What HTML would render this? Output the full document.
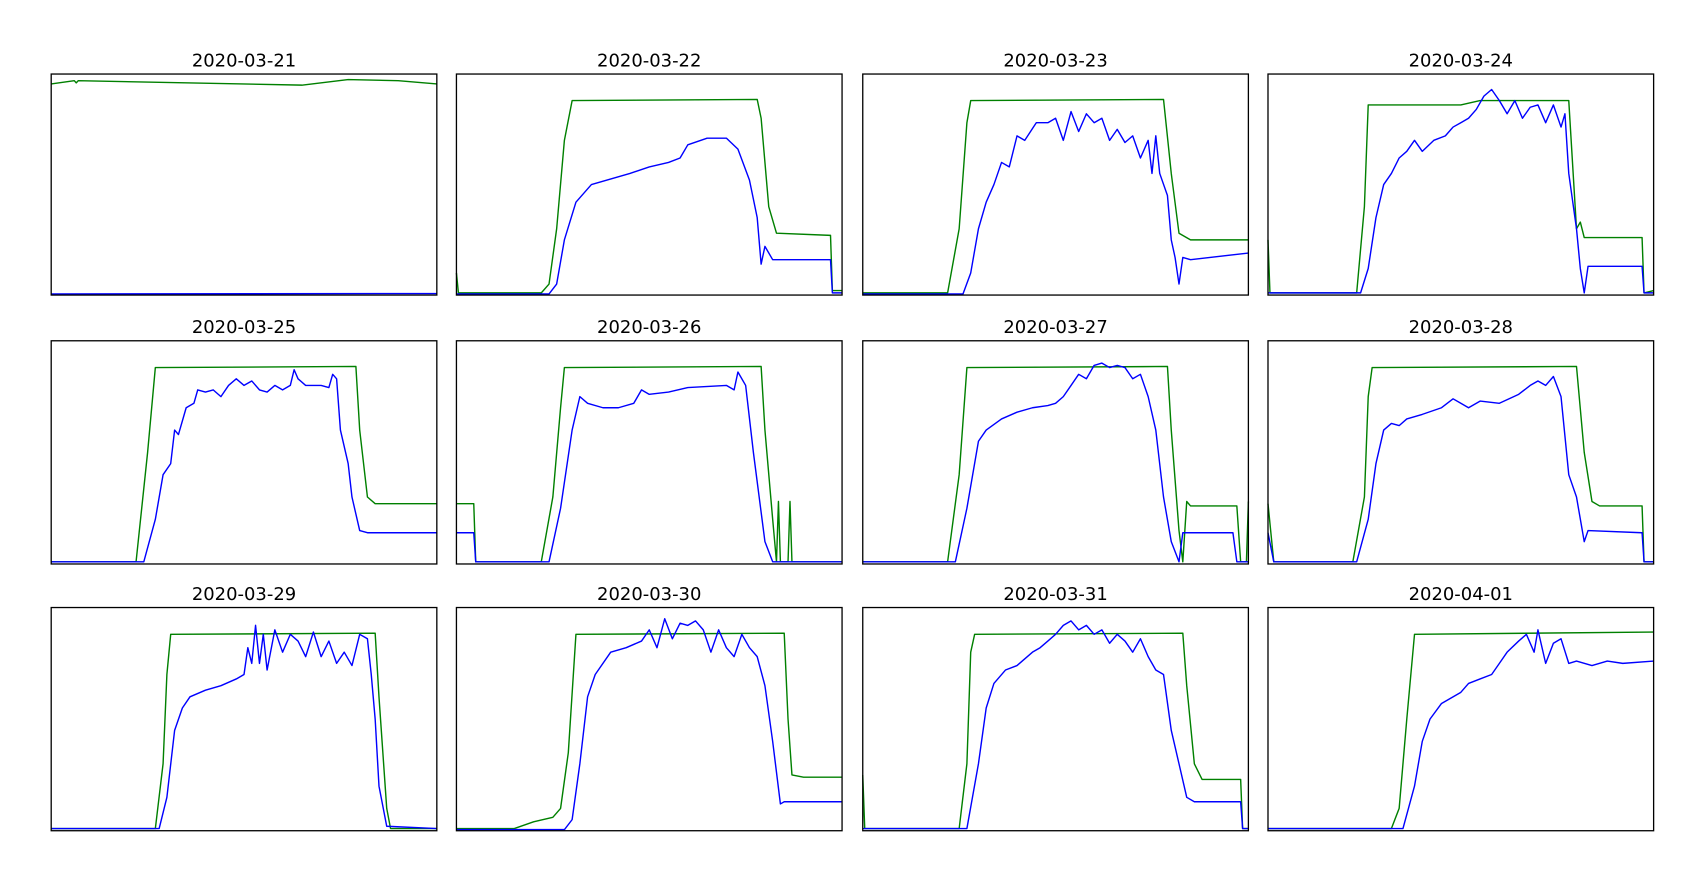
<!DOCTYPE html>
<html><head><meta charset="utf-8"><style>
html,body{margin:0;padding:0;background:#fff;}
svg{display:block;}
text{font-family:"DejaVu Sans","Liberation Sans",sans-serif;}
</style></head><body>
<svg id="fig" width="1707" height="877" viewBox="0 0 1567 805.5" preserveAspectRatio="none" xmlns="http://www.w3.org/2000/svg"></svg>
<script>
const dates=["2020-03-21","2020-03-22","2020-03-23","2020-03-24","2020-03-25","2020-03-26","2020-03-27","2020-03-28","2020-03-29","2020-03-30","2020-03-31","2020-04-01"];
const green0=[[0,0.955],[0.06,0.97],[0.065,0.96],[0.07,0.97],[0.65,0.95],[0.77,0.975],[0.9,0.97],[1,0.955]];
const blue0=[[0,0.005],[1,0.007]];
const green1=[[0,0.1],[0.005,0.01],[0.22,0.01],[0.24,0.05],[0.26,0.3],[0.28,0.7],[0.3,0.88],[0.78,0.885],[0.79,0.8],[0.81,0.4],[0.83,0.28],[0.97,0.27],[0.975,0.02],[1,0.02]];
const blue1=[[0,0.005],[0.24,0.005],[0.26,0.05],[0.28,0.25],[0.31,0.42],[0.35,0.5],[0.45,0.55],[0.5,0.58],[0.55,0.6],[0.58,0.62],[0.6,0.68],[0.65,0.71],[0.7,0.71],[0.73,0.66],[0.76,0.52],[0.78,0.35],[0.79,0.14],[0.8,0.22],[0.82,0.16],[0.97,0.16],[0.975,0.01],[1,0.01]];
const green2=[[0,0.01],[0.22,0.01],[0.25,0.3],[0.27,0.78],[0.28,0.88],[0.78,0.885],[0.8,0.55],[0.82,0.28],[0.85,0.25],[1,0.25]];
const blue2=[[0,0.005],[0.26,0.005],[0.28,0.1],[0.3,0.3],[0.32,0.42],[0.34,0.5],[0.36,0.6],[0.38,0.58],[0.4,0.72],[0.42,0.7],[0.45,0.78],[0.48,0.78],[0.5,0.8],[0.52,0.7],[0.54,0.83],[0.56,0.74],[0.58,0.82],[0.6,0.78],[0.62,0.8],[0.64,0.7],[0.66,0.75],[0.68,0.69],[0.7,0.72],[0.72,0.62],[0.74,0.7],[0.75,0.55],[0.76,0.72],[0.77,0.55],[0.79,0.45],[0.8,0.25],[0.81,0.17],[0.82,0.05],[0.83,0.17],[0.85,0.16],[1,0.19]];
const green3=[[0,0.25],[0.005,0.01],[0.23,0.01],[0.25,0.4],[0.26,0.86],[0.5,0.86],[0.55,0.88],[0.78,0.88],[0.8,0.3],[0.81,0.33],[0.82,0.26],[0.97,0.26],[0.975,0.01],[1,0.02]];
const blue3=[[0,0.01],[0.24,0.01],[0.26,0.12],[0.28,0.35],[0.3,0.5],[0.32,0.55],[0.34,0.62],[0.36,0.65],[0.38,0.7],[0.4,0.65],[0.43,0.7],[0.46,0.72],[0.48,0.76],[0.5,0.78],[0.52,0.8],[0.54,0.84],[0.56,0.9],[0.58,0.93],[0.6,0.88],[0.62,0.82],[0.64,0.88],[0.66,0.8],[0.68,0.85],[0.7,0.86],[0.72,0.78],[0.74,0.86],[0.76,0.76],[0.77,0.82],[0.78,0.55],[0.8,0.3],[0.81,0.12],[0.82,0.01],[0.83,0.13],[0.97,0.13],[0.975,0.01],[1,0.01]];
const green4=[[0,0.01],[0.22,0.01],[0.25,0.5],[0.27,0.88],[0.79,0.885],[0.8,0.6],[0.82,0.3],[0.84,0.27],[1,0.27]];
const blue4=[[0,0.01],[0.24,0.01],[0.27,0.2],[0.29,0.4],[0.31,0.45],[0.32,0.6],[0.33,0.58],[0.35,0.7],[0.37,0.72],[0.38,0.78],[0.4,0.77],[0.42,0.78],[0.44,0.75],[0.46,0.8],[0.48,0.83],[0.5,0.8],[0.52,0.82],[0.54,0.78],[0.56,0.77],[0.58,0.8],[0.6,0.78],[0.62,0.8],[0.63,0.87],[0.64,0.83],[0.66,0.8],[0.7,0.8],[0.72,0.79],[0.73,0.85],[0.74,0.83],[0.75,0.6],[0.77,0.45],[0.78,0.3],[0.8,0.15],[0.82,0.14],[1,0.14]];
const green5=[[0,0.27],[0.045,0.27],[0.05,0.01],[0.22,0.01],[0.25,0.3],[0.27,0.7],[0.28,0.88],[0.79,0.885],[0.8,0.6],[0.82,0.2],[0.83,0.01],[0.835,0.28],[0.84,0.01],[0.86,0.01],[0.865,0.28],[0.87,0.01],[1,0.01]];
const blue5=[[0,0.14],[0.045,0.14],[0.05,0.01],[0.24,0.01],[0.27,0.25],[0.3,0.6],[0.32,0.75],[0.34,0.72],[0.38,0.7],[0.42,0.7],[0.46,0.72],[0.48,0.78],[0.5,0.76],[0.55,0.77],[0.6,0.79],[0.7,0.8],[0.72,0.78],[0.73,0.86],[0.75,0.8],[0.77,0.5],[0.8,0.1],[0.82,0.01],[1,0.01]];
const green6=[[0,0.01],[0.22,0.01],[0.25,0.4],[0.27,0.88],[0.79,0.885],[0.8,0.6],[0.82,0.15],[0.83,0.01],[0.84,0.28],[0.85,0.26],[0.97,0.26],[0.98,0.01],[0.995,0.01],[1,0.28]];
const blue6=[[0,0.01],[0.24,0.01],[0.27,0.25],[0.3,0.55],[0.32,0.6],[0.36,0.65],[0.4,0.68],[0.44,0.7],[0.48,0.71],[0.5,0.72],[0.52,0.75],[0.54,0.8],[0.56,0.85],[0.58,0.83],[0.6,0.89],[0.62,0.9],[0.64,0.88],[0.66,0.89],[0.68,0.88],[0.7,0.83],[0.72,0.85],[0.74,0.75],[0.76,0.6],[0.78,0.3],[0.8,0.1],[0.82,0.01],[0.83,0.14],[0.96,0.14],[0.97,0.01],[1,0.01]];
const green7=[[0,0.27],[0.015,0.01],[0.22,0.01],[0.25,0.3],[0.26,0.75],[0.27,0.88],[0.8,0.885],[0.82,0.5],[0.84,0.28],[0.86,0.26],[0.97,0.26],[0.975,0.01],[1,0.01]];
const blue7=[[0,0.14],[0.015,0.01],[0.23,0.01],[0.26,0.2],[0.28,0.45],[0.3,0.6],[0.32,0.63],[0.34,0.62],[0.36,0.65],[0.4,0.67],[0.45,0.7],[0.48,0.74],[0.5,0.72],[0.52,0.7],[0.55,0.73],[0.6,0.72],[0.65,0.76],[0.68,0.8],[0.7,0.82],[0.72,0.8],[0.74,0.84],[0.76,0.75],[0.78,0.4],[0.8,0.3],[0.82,0.1],[0.83,0.15],[0.97,0.14],[0.975,0.01],[1,0.01]];
const green8=[[0,0.01],[0.27,0.01],[0.29,0.3],[0.3,0.7],[0.31,0.88],[0.84,0.885],[0.85,0.6],[0.87,0.1],[0.88,0.01],[1,0.01]];
const blue8=[[0,0.01],[0.28,0.01],[0.3,0.15],[0.32,0.45],[0.34,0.55],[0.36,0.6],[0.4,0.63],[0.44,0.65],[0.48,0.68],[0.5,0.7],[0.51,0.82],[0.52,0.75],[0.53,0.92],[0.54,0.75],[0.55,0.88],[0.56,0.72],[0.58,0.9],[0.6,0.8],[0.62,0.88],[0.64,0.85],[0.66,0.78],[0.68,0.89],[0.7,0.78],[0.72,0.85],[0.74,0.75],[0.76,0.8],[0.78,0.74],[0.8,0.88],[0.82,0.86],[0.83,0.7],[0.84,0.5],[0.85,0.2],[0.87,0.02],[1,0.01]];
const green9=[[0,0.01],[0.15,0.01],[0.2,0.04],[0.25,0.06],[0.27,0.1],[0.29,0.35],[0.31,0.88],[0.85,0.885],[0.86,0.5],[0.87,0.25],[0.9,0.24],[1,0.24]];
const blue9=[[0,0.005],[0.28,0.005],[0.3,0.05],[0.32,0.3],[0.34,0.6],[0.36,0.7],[0.4,0.8],[0.44,0.82],[0.48,0.85],[0.5,0.9],[0.52,0.82],[0.54,0.95],[0.56,0.86],[0.58,0.93],[0.6,0.92],[0.62,0.94],[0.64,0.9],[0.66,0.8],[0.68,0.9],[0.7,0.82],[0.72,0.78],[0.74,0.88],[0.76,0.82],[0.78,0.78],[0.8,0.65],[0.82,0.4],[0.84,0.12],[0.85,0.13],[1,0.13]];
const green10=[[0,0.25],[0.005,0.01],[0.25,0.01],[0.27,0.3],[0.28,0.8],[0.29,0.88],[0.83,0.885],[0.84,0.65],[0.86,0.3],[0.88,0.23],[0.98,0.23],[0.985,0.01],[1,0.01]];
const blue10=[[0,0.01],[0.27,0.01],[0.3,0.3],[0.32,0.55],[0.34,0.66],[0.37,0.72],[0.4,0.74],[0.44,0.8],[0.46,0.82],[0.48,0.85],[0.5,0.88],[0.52,0.92],[0.54,0.94],[0.56,0.9],[0.58,0.92],[0.6,0.88],[0.62,0.9],[0.64,0.84],[0.66,0.88],[0.68,0.85],[0.7,0.8],[0.72,0.86],[0.74,0.78],[0.76,0.72],[0.78,0.7],[0.8,0.45],[0.82,0.3],[0.84,0.15],[0.86,0.13],[0.98,0.13],[0.985,0.01],[1,0.01]];
const green11=[[0,0.01],[0.32,0.01],[0.34,0.1],[0.36,0.5],[0.38,0.88],[1,0.89]];
const blue11=[[0,0.01],[0.35,0.01],[0.38,0.2],[0.4,0.4],[0.42,0.5],[0.45,0.57],[0.5,0.62],[0.52,0.66],[0.55,0.68],[0.58,0.7],[0.6,0.75],[0.62,0.8],[0.65,0.85],[0.67,0.88],[0.69,0.8],[0.7,0.9],[0.72,0.75],[0.74,0.84],[0.76,0.86],[0.78,0.75],[0.8,0.76],[0.84,0.74],[0.88,0.76],[0.92,0.75],[1,0.76]];
const greens=[green0,green1,green2,green3,green4,green5,green6,green7,green8,green9,green10,green11];
const blues=[blue0,blue1,blue2,blue3,blue4,blue5,blue6,blue7,blue8,blue9,blue10,blue11];

const NS="http://www.w3.org/2000/svg";
const svg=document.getElementById('fig');
const colX=[47,419,792,1164], colW=354;
const rowY=[68,313,558], rowH=[203,205,205];
function mk(tag,attrs){const e=document.createElementNS(NS,tag);for(const k in attrs)e.setAttribute(k,attrs[k]);return e;}
dates.forEach((d,i)=>{
  const r=Math.floor(i/4), c=i%4;
  const x0=colX[c], y0=rowY[r], h=rowH[r];
  const g=mk('g',{});
  
  
  svg.appendChild(g);
  const xs=t=>x0+t*colW, ys=v=>y0+h-v*h;
  const t=mk('text',{x:x0+colW/2,y:y0-7,'text-anchor':'middle','font-size':'16.5',fill:'#000'});
  t.textContent=d;
  
  
  g.appendChild(t);
  [[greens[i],'#008000','green-series'],[blues[i],'#0000ff','blue-series']].forEach(([arr,col,nm])=>{
    const p=mk('polyline',{points:arr.map(q=>xs(q[0]).toFixed(1)+','+ys(q[1]).toFixed(1)).join(' '),fill:'none',stroke:col,'stroke-width':'1.3','stroke-linejoin':'round'});
    
    
    g.appendChild(p);
  });
  const b=mk('rect',{x:x0,y:y0,width:colW,height:h,fill:'none',stroke:'#000','stroke-width':'1.2'});
  
  
  g.appendChild(b);
});
</script>
</body></html>
